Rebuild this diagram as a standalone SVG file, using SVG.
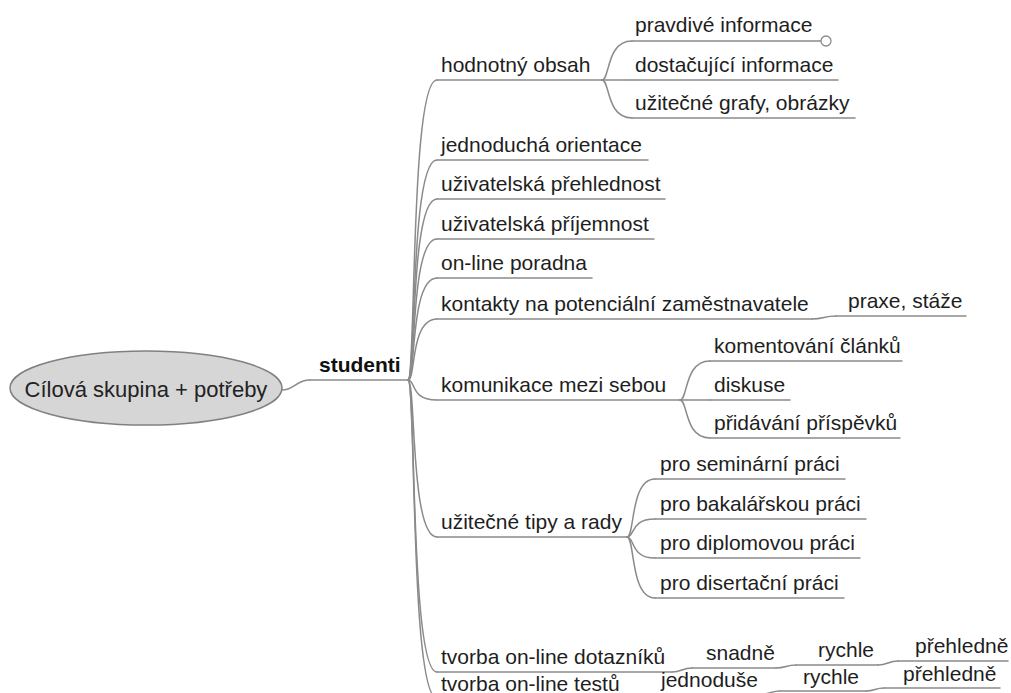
<svg xmlns="http://www.w3.org/2000/svg" width="1011" height="693" viewBox="0 0 1011 693">
<style>
.t{font-family:"Liberation Sans",Arial,sans-serif;font-size:21px;fill:#1e1e1e}
.b{font-family:"Liberation Sans",Arial,sans-serif;font-size:21px;font-weight:bold;fill:#111}
.r{font-family:"Liberation Sans",Arial,sans-serif;font-size:22px;fill:#222}
.ln{fill:none;stroke:#8a8a8a;stroke-width:1.5;stroke-linecap:round}
</style>
<rect width="1011" height="693" fill="#ffffff"/>
<g id="connectors" class="ln">
<path d="M282,390 C294,390 296,380 310,380"/>
<path d="M408,380 C416,380 410,80 437,80"/>
<path d="M408,380 C416,380 410,160 437,160"/>
<path d="M408,380 C416,380 410,199 437,199"/>
<path d="M408,380 C416,380 410,239 437,239"/>
<path d="M408,380 C416,380 410,278 437,278"/>
<path d="M408,380 C416,380 410,319 437,319"/>
<path d="M408,380 C416,380 410,400 437,400"/>
<path d="M408,380 C416,380 410,537 437,537"/>
<path d="M408,380 C416,380 410,672 437,672"/>
<path d="M408,380 C416,380 410,698 437,698"/>
<path d="M602,80 C610,80 606,41 632,41"/>
<path d="M602,80 L632,80"/>
<path d="M602,80 C610,80 606,118 632,118"/>
<path d="M812,319 C824,319 824,316 836,316"/>
<path d="M680,400 C688,400 684,361 710,361"/>
<path d="M680,400 L710,400"/>
<path d="M680,400 C688,400 684,438 710,438"/>
<path d="M627,537 C635,537 630,479 655,479"/>
<path d="M627,537 C635,537 630,519 655,519"/>
<path d="M627,537 C635,537 630,558 655,558"/>
<path d="M627,537 C635,537 630,598 655,598"/>
<path d="M672,672 C682,672 682,668 692,668"/>
<path d="M776,668 C786,668 786,665 796,665"/>
<path d="M878,665 C888,665 888,661 898,661"/>
<path d="M624,698 C633,698 633,694 642,694"/>
<path d="M762,694 C771,694 771,691 780,691"/>
<path d="M866,691 C875,691 875,688 884,688"/>
</g>
<g id="root">
<ellipse cx="146" cy="388" rx="136" ry="37" fill="#d6d6d6" stroke="#808080" stroke-width="1.5"/>
<text class="r" x="146" y="397" text-anchor="middle">Cílová skupina + potřeby</text>
</g>
<g id="studenti"><text class="b" x="319" y="372">studenti</text><line class="ln" x1="310" y1="380" x2="408" y2="380"/></g>
<g id="hodnotny-obsah"><text class="t" x="441" y="72">hodnotný obsah</text><line class="ln" x1="437" y1="80" x2="602" y2="80"/></g>
<g id="pravdive-informace"><text class="t" x="635" y="32">pravdivé informace</text><line class="ln" x1="632" y1="41" x2="821" y2="41"/><circle cx="826" cy="41" r="5" fill="#fff" stroke="#8a8a8a" stroke-width="1.3"/></g>
<g id="dostacujici-informace"><text class="t" x="635" y="72">dostačující informace</text><line class="ln" x1="632" y1="80" x2="838" y2="80"/></g>
<g id="uzitecne-grafy"><text class="t" x="635" y="110">užitečné grafy, obrázky</text><line class="ln" x1="632" y1="118" x2="855" y2="118"/></g>
<g id="jednoducha-orientace"><text class="t" x="441" y="152">jednoduchá orientace</text><line class="ln" x1="437" y1="160" x2="648" y2="160"/></g>
<g id="uzivatelska-prehlednost"><text class="t" x="441" y="191">uživatelská přehlednost</text><line class="ln" x1="437" y1="199" x2="665" y2="199"/></g>
<g id="uzivatelska-prijemnost"><text class="t" x="441" y="231">uživatelská příjemnost</text><line class="ln" x1="437" y1="239" x2="654" y2="239"/></g>
<g id="online-poradna"><text class="t" x="441" y="270">on-line poradna</text><line class="ln" x1="437" y1="278" x2="592" y2="278"/></g>
<g id="kontakty"><text class="t" x="441" y="311">kontakty na potenciální zaměstnavatele</text><line class="ln" x1="437" y1="319" x2="812" y2="319"/></g>
<g id="praxe-staze"><text class="t" x="848" y="308">praxe, stáže</text><line class="ln" x1="836" y1="316" x2="966" y2="316"/></g>
<g id="komunikace"><text class="t" x="441" y="392">komunikace mezi sebou</text><line class="ln" x1="437" y1="400" x2="680" y2="400"/></g>
<g id="komentovani"><text class="t" x="714" y="353">komentování článků</text><line class="ln" x1="710" y1="361" x2="902" y2="361"/></g>
<g id="diskuse"><text class="t" x="714" y="392">diskuse</text><line class="ln" x1="710" y1="400" x2="790" y2="400"/></g>
<g id="pridavani"><text class="t" x="714" y="430">přidávání příspěvků</text><line class="ln" x1="710" y1="438" x2="900" y2="438"/></g>
<g id="uzitecne-tipy"><text class="t" x="441" y="529">užitečné tipy a rady</text><line class="ln" x1="437" y1="537" x2="627" y2="537"/></g>
<g id="seminarni"><text class="t" x="660" y="471">pro seminární práci</text><line class="ln" x1="655" y1="479" x2="845" y2="479"/></g>
<g id="bakalarska"><text class="t" x="660" y="511">pro bakalářskou práci</text><line class="ln" x1="655" y1="519" x2="866" y2="519"/></g>
<g id="diplomova"><text class="t" x="660" y="550">pro diplomovou práci</text><line class="ln" x1="655" y1="558" x2="860" y2="558"/></g>
<g id="disertacni"><text class="t" x="660" y="590">pro disertační práci</text><line class="ln" x1="655" y1="598" x2="844" y2="598"/></g>
<g id="dotazniky"><text class="t" x="441" y="664">tvorba on-line dotazníků</text><line class="ln" x1="437" y1="672" x2="672" y2="672"/></g>
<g id="snadne"><text class="t" x="706" y="660">snadně</text><line class="ln" x1="692" y1="668" x2="776" y2="668"/></g>
<g id="rychle-1"><text class="t" x="818" y="657">rychle</text><line class="ln" x1="796" y1="665" x2="878" y2="665"/></g>
<g id="prehledne-1"><text class="t" x="915" y="653">přehledně</text><line class="ln" x1="898" y1="661" x2="1008" y2="661"/></g>
<g id="testy"><text class="t" x="441" y="691">tvorba on-line testů</text><line class="ln" x1="437" y1="698" x2="624" y2="698"/></g>
<g id="jednoduse"><text class="t" x="661" y="687">jednoduše</text><line class="ln" x1="642" y1="694" x2="762" y2="694"/></g>
<g id="rychle-2"><text class="t" x="803" y="684">rychle</text><line class="ln" x1="780" y1="691" x2="866" y2="691"/></g>
<g id="prehledne-2"><text class="t" x="903" y="681">přehledně</text><line class="ln" x1="884" y1="688" x2="1000" y2="688"/></g>
</svg>
